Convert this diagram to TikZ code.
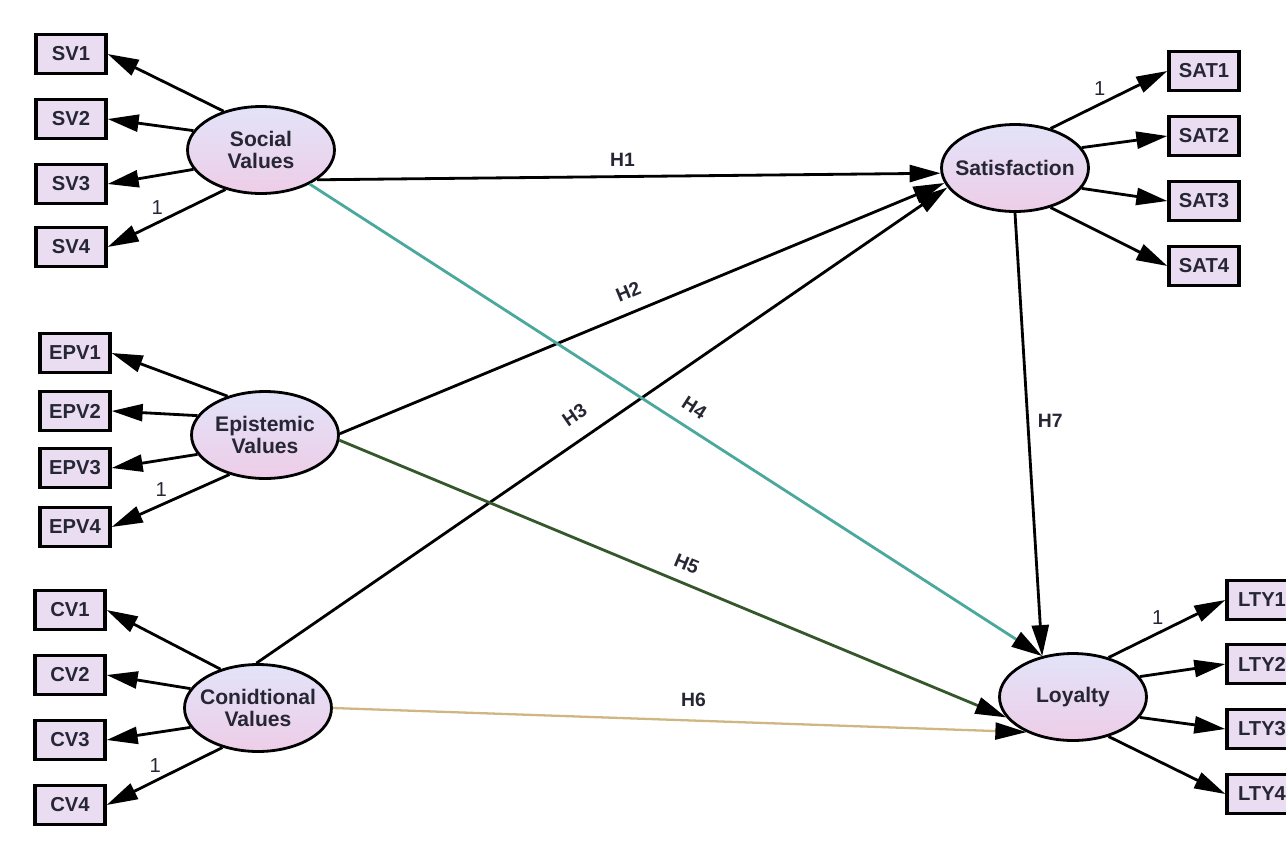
\documentclass[tikz,border=0pt]{standalone}
\usepackage{fontspec}
\setmainfont{Liberation Sans}
\usetikzlibrary{
    arrows.meta,
    shapes.geometric
}
\definecolor{boxFill}{RGB}{234,221,241}
\definecolor{latTop}{RGB}{226,227,248}
\definecolor{latBot}{RGB}{238,205,232}
\definecolor{txtDark}{RGB}{38,38,52}
\definecolor{pathTeal}{RGB}{74,168,156}
\definecolor{pathOlive}{RGB}{52,88,44}
\definecolor{pathTan}{RGB}{208,182,130}
\tikzset{
  ind/.style   = {draw, line width=1.9pt, fill=boxFill, minimum width=1.4cm,
                  minimum height=0.78cm, inner sep=0pt, text=txtDark,
                  font=\fontsize{11.5}{13}\selectfont\bfseries},
  lat/.style   = {ellipse, draw, line width=1.6pt, top color=latTop,
                  bottom color=latBot, minimum width=2.94cm, minimum height=1.74cm,
                  inner sep=0pt, inner xsep=-0.4cm, align=center, text=txtDark,
                  font=\fontsize{12}{13}\selectfont\bfseries},
  load/.style  = {-{Triangle[length=0.62cm, width=0.34cm]}, line width=1.6pt},
  hyp/.style   = {-{Triangle[length=0.62cm, width=0.34cm, color=black]},
                  line width=1.6pt},
  hlab/.style  = {font=\fontsize{11}{13}\selectfont\bfseries, text=txtDark,
                  inner sep=2pt},
  one/.style   = {font=\fontsize{11.5}{13}\selectfont, text=txtDark, inner sep=1pt}
}

\begin{document}
\begin{tikzpicture}[x=0.02cm, y=-0.02cm]
    \useasboundingbox (0,0) rectangle (1286,863);
    \fill[white] (0,0) rectangle (1286,863);
    \clip (0,0) rectangle (1286,863);

    % latent variables
    \node[lat] (soc) at (261,150) {Social\\Values};
    \node[lat] (epi) at (265,435) {Epistemic\\Values};
    \node[lat] (con) at (258,708) {Conidtional\\Values};
    \node[lat] (sat) at (1015,168) {Satisfaction};
    \node[lat] (loy) at (1073,697) {Loyalty};

    % observed indicators
    \node[ind] (SV1) at (71,54) {SV1};
    \node[ind] (SV2) at (71,119) {SV2};
    \node[ind] (SV3) at (71,184) {SV3};
    \node[ind] (SV4) at (71,247) {SV4};

    \node[ind] (EPV1) at (75,353) {EPV1};
    \node[ind] (EPV2) at (75,411) {EPV2};
    \node[ind] (EPV3) at (75,468) {EPV3};
    \node[ind] (EPV4) at (75,527) {EPV4};

    \node[ind] (CV1) at (70,610) {CV1};
    \node[ind] (CV2) at (70,675) {CV2};
    \node[ind] (CV3) at (70,740) {CV3};
    \node[ind] (CV4) at (70,805) {CV4};

    \node[ind] (SAT1) at (1204,71) {SAT1};
    \node[ind] (SAT2) at (1204,136) {SAT2};
    \node[ind] (SAT3) at (1204,201) {SAT3};
    \node[ind] (SAT4) at (1204,266) {SAT4};

    \node[ind] (LTY1) at (1262,600) {LTY1};
    \node[ind] (LTY2) at (1262,664) {LTY2};
    \node[ind] (LTY3) at (1262,729) {LTY3};
    \node[ind] (LTY4) at (1262,794) {LTY4};

    % loadings
    \draw[load] (soc.134) -- (SV1.east);
    \draw[load] (soc.164) -- (SV2.east);
    \draw[load] (soc.196) -- (SV3.east);
    \draw[load] (soc.228) -- node[one, pos=0.58, above=3pt] {1} (SV4.east);

    \draw[load] (epi.134) -- (EPV1.east);
    \draw[load] (epi.164) -- (EPV2.east);
    \draw[load] (epi.196) -- (EPV3.east);
    \draw[load] (epi.228) -- node[one, pos=0.58, above=3pt] {1} (EPV4.east);

    \draw[load] (con.134) -- (CV1.east);
    \draw[load] (con.164) -- (CV2.east);
    \draw[load] (con.196) -- (CV3.east);
    \draw[load] (con.228) -- node[one, pos=0.58, above=3pt] {1} (CV4.east);

    \draw[load] (sat.48) -- node[one, pos=0.42, above=3pt] {1} (SAT1.west);
    \draw[load] (sat.17) -- (SAT2.west);
    \draw[load] (sat.-17) -- (SAT3.west);
    \draw[load] (sat.-48) -- (SAT4.west);

    \draw[load] (loy.48) -- node[one, pos=0.42, above=3pt] {1} (LTY1.west);
    \draw[load] (loy.17) -- (LTY2.west);
    \draw[load] (loy.-17) -- (LTY3.west);
    \draw[load] (loy.-48) -- (LTY4.west);

    % hypotheses
    \draw[hyp] (soc.-28) -- node[hlab, pos=0.49, above=3pt] {H1} (sat.184);
    \draw[hyp] (epi.1) -- node[hlab, pos=0.49, sloped, above=5pt] {H2} (sat.192);
    \draw[hyp] (con.92) -- node[hlab, pos=0.48, sloped, above=7pt] {H3} (sat.196);
    \draw[hyp, pathTeal] (soc.-35) -- node[hlab, pos=0.51, sloped, above=5pt] {H4} (loy.127);
    \draw[hyp, pathOlive] (epi.-4) -- node[hlab, pos=0.51, sloped, above=4pt] {H5} (loy.197);
    \draw[hyp, pathTan, line width=1.3pt] (con.0) -- node[hlab, pos=0.52, above=5pt] {H6} (loy.217);
    \draw[hyp] (sat.-90) -- node[hlab, pos=0.47, right=3pt] {H7} (loy.127);
\end{tikzpicture}
\end{document}
